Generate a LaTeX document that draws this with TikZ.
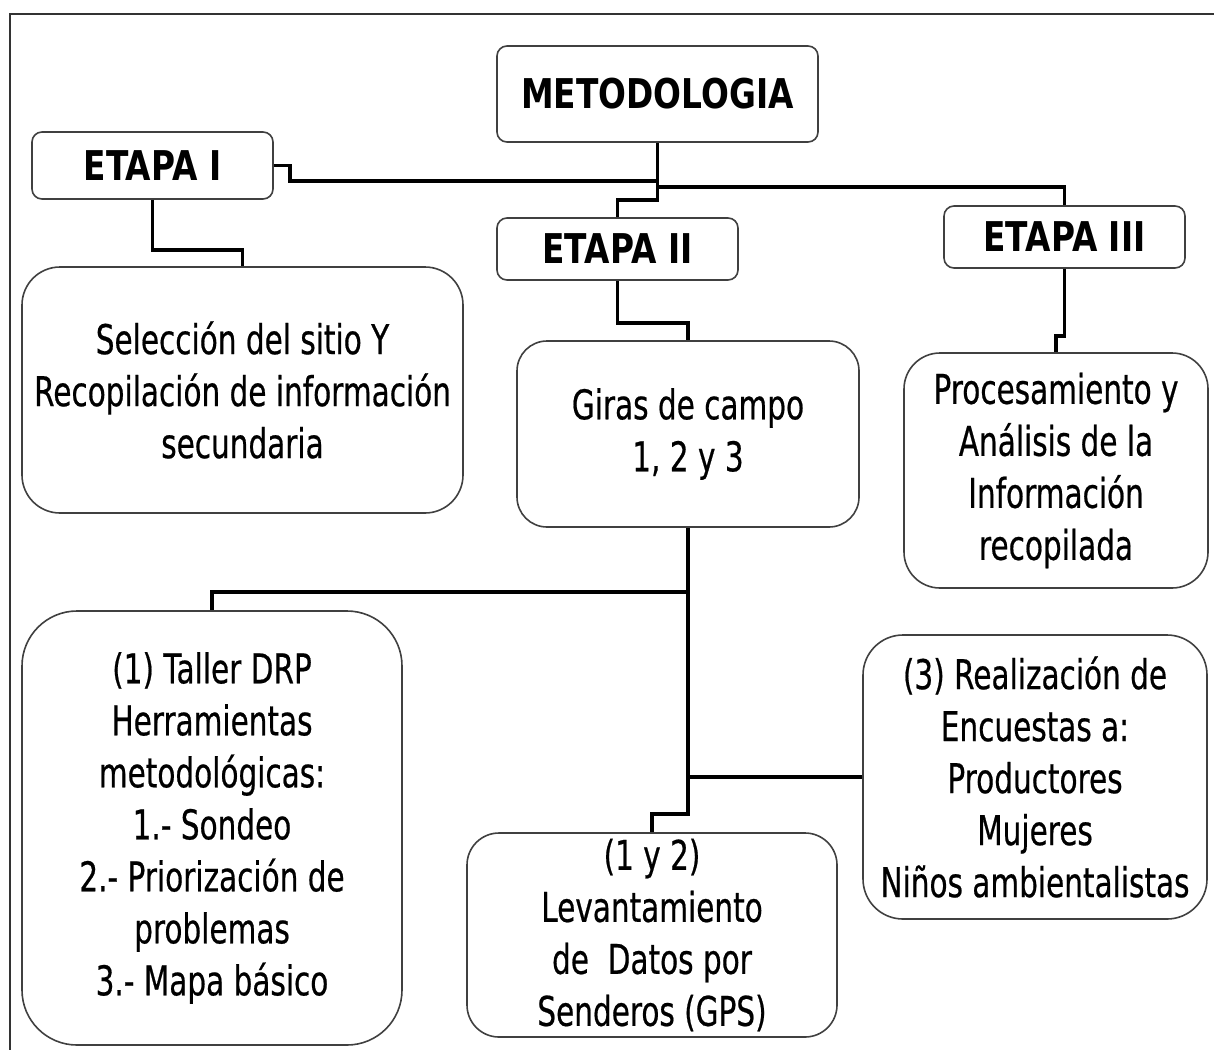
\documentclass[tikz,border=0pt]{standalone}
\usepackage{fontspec}
\setmainfont{DejaVu Sans}
\newfontfamily\boxfont{DejaVu Sans}[FakeStretch=0.72,FakeBold=0.5]
\newfontfamily\headfont{DejaVu Sans}[FakeStretch=0.8]
\usetikzlibrary{positioning}

\begin{document}
\begin{tikzpicture}[x=1pt,y=-1pt,
 stage/.style={draw=black!75,line width=1.6pt,rounded corners=10pt,inner sep=0pt,
  font=\headfont\bfseries\fontsize{41}{51.5}\selectfont},
 task/.style={draw=black!75,line width=1.6pt,align=center,inner sep=0pt,
  font=\boxfont\fontsize{41}{52}\selectfont},
 link/.style={line width=3.4pt,black}]
\useasboundingbox (0,0) rectangle (1214,1049);
\draw[line width=1.5pt,black!80] (10,1060) -- (10,14) -- (1225,14);

% titulo y etapas
\node[stage,minimum width=321pt,minimum height=96pt] (meto) at (657.5,94) {METODOLOGIA};
\node[stage,minimum width=241pt,minimum height=67pt] (etapaI) at (152.5,165.5) {ETAPA I};
\node[stage,minimum width=241pt,minimum height=62pt] (etapaII) at (617.5,249) {ETAPA II};
\node[stage,minimum width=241pt,minimum height=62pt] (etapaIII) at (1064.5,237) {ETAPA III};

% actividades
\node[task,rounded corners=38pt,minimum width=441pt,minimum height=246pt] (sitio) at (242.5,390)
 {Selección del sitio Y\\Recopilación de información\\secundaria};
\node[task,rounded corners=30pt,minimum width=342pt,minimum height=186pt] (giras) at (688,434)
 {Giras de campo\\1, 2 y 3};
\node[task,rounded corners=36pt,minimum width=304pt,minimum height=235pt] (proc) at (1056,470.5)
 {Procesamiento y\\Análisis de la\\Información\\recopilada};
\node[task,rounded corners=55pt,minimum width=380pt,minimum height=434pt] (taller) at (212,828)
 {(1) Taller DRP\\Herramientas\\metodológicas:\\1.- Sondeo\\2.- Priorización de\\problemas\\3.- Mapa básico};
\node[task,rounded corners=32pt,minimum width=370pt,minimum height=204pt] (datos) at (652,935)
 {(1 y 2)\\Levantamiento\\de\ \ Datos por\\Senderos (GPS)};
\node[task,rounded corners=40pt,minimum width=344pt,minimum height=284pt] (encuestas) at (1035,777)
 {(3) Realización de\\Encuestas a:\\Productores\\Mujeres\\Niños ambientalistas};

% conectores
\coordinate (mA) at (657.5,181);
\coordinate (mB) at (657.5,187);
\coordinate (mC) at (657.5,200);
\coordinate (mD) at (290,165.5);
\draw[link] (meto.south) -- (mC) -| (etapaII.north);
\draw[link] (mA) -| (mD) -- (etapaI.east);
\draw[link] (mB) -| (etapaIII.north);
\draw[link] (etapaI.south) -- ++(0,50) -| (sitio.north);
\draw[link] (etapaII.south) -- ++(0,42) -| (giras.north);
\draw[link] (etapaIII.south) -- ++(0,67) -| (proc.north);
\coordinate (gA) at (688,592);
\coordinate (gB) at (688,777);
\draw[link] (giras.south) -- ++(0,286) -| (datos.north);
\draw[link] (gA) -| (taller.north);
\draw[link] (gB) -- (encuestas.west);
\end{tikzpicture}
\end{document}
